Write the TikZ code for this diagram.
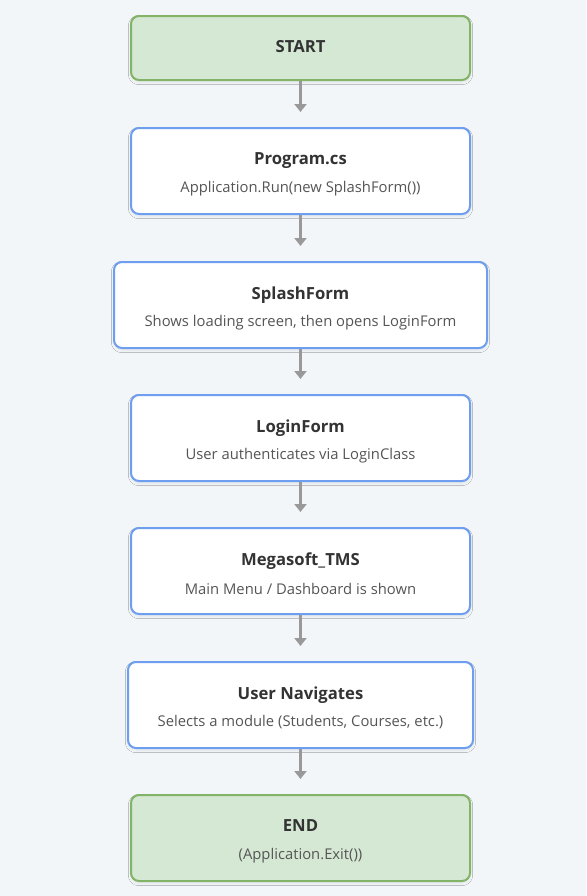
\documentclass[tikz,border=0pt]{standalone}
\usepackage{fontspec}
\setmainfont{Open Sans}
\usetikzlibrary{arrows.meta,calc,shadows.blur}
\definecolor{bg}{HTML}{F3F6F9}
\definecolor{bluebd}{HTML}{6D9EF0}
\definecolor{greenbd}{HTML}{82B366}
\definecolor{greenfill}{HTML}{D5E8D4}
\definecolor{titlec}{HTML}{333333}
\definecolor{subc}{HTML}{555555}
\definecolor{arrowc}{HTML}{999999}
\tikzset{
  boxbase/.style={rectangle, rounded corners=6pt, line width=1.5pt, inner sep=0pt, minimum height=86*0.75pt,
    blur shadow={shadow xshift=0pt, shadow yshift=-1.5pt, shadow blur steps=4, shadow opacity=8, shadow blur radius=2pt, shadow scale=1}},
  stepbox/.style={boxbase, draw=bluebd, fill=white, minimum width=339*0.75pt},
  termbox/.style={boxbase, draw=greenbd, fill=greenfill, minimum width=339*0.75pt},
  ttl/.style={font=\fontsize{12.5pt}{15pt}\selectfont\bfseries, text=titlec, inner sep=0pt},
  sub/.style={font=\fontsize{11.1pt}{13pt}\selectfont, text=subc, inner sep=0pt},
  flow/.style={draw=arrowc, line width=2.25pt, -{Triangle[width=12*0.75pt,length=8*0.75pt]}}
}
\begin{document}
\begin{tikzpicture}[x=0.75pt,y=-0.75pt]
\useasboundingbox[fill=bg] (0,0) rectangle (586,896);
% boxes
\node[termbox, minimum height=64*0.75pt] (start) at (300.5,48) {};
\node[ttl] (startT) at ($(start.center)+(0,-1)$) {START};

\node[stepbox] (prog) at (300.5,171) {};
\node[ttl] (progT) at ($(prog.center)+(0,-10)$) {Program.cs};
\node[sub] (progS) at ($(prog.center)+(0,17.5)$) {Application.Run(new SplashForm())};

\node[stepbox, minimum width=373*0.75pt] (splash) at (300.5,305) {};
\node[ttl] (splashT) at ($(splash.center)+(0,-10)$) {SplashForm};
\node[sub] (splashS) at ($(splash.center)+(0,17.5)$) {Shows loading screen, then opens LoginForm};

\node[stepbox] (login) at (300.5,438) {};
\node[ttl] (loginT) at ($(login.center)+(0,-10)$) {LoginForm};
\node[sub] (loginS) at ($(login.center)+(0,17.5)$) {User authenticates via LoginClass};

\node[stepbox] (mega) at (300.5,571) {};
\node[ttl] (megaT) at ($(mega.center)+(0,-10)$) {Megasoft\_TMS};
\node[sub] (megaS) at ($(mega.center)+(0,17.5)$) {Main Menu / Dashboard is shown};

\node[stepbox, minimum width=345*0.75pt] (nav) at (300.5,705) {};
\node[ttl] (navT) at ($(nav.center)+(0,-10)$) {User Navigates};
\node[sub] (navS) at ($(nav.center)+(0,17.5)$) {Selects a module (Students, Courses, etc.)};

\node[termbox] (end) at (300.5,838) {};
\node[ttl] (endT) at ($(end.center)+(0,-12)$) {END};
\node[sub] (endS) at ($(end.center)+(0,17.5)$) {(Application.Exit())};

% connectors
\draw[flow] (start.south) -- ($(prog.north)+(0,-15)$);
\draw[flow] (prog.south) -- ($(splash.north)+(0,-15)$);
\draw[flow] (splash.south) -- ($(login.north)+(0,-15)$);
\draw[flow] (login.south) -- ($(mega.north)+(0,-15)$);
\draw[flow] (mega.south) -- ($(nav.north)+(0,-15)$);
\draw[flow] (nav.south) -- ($(end.north)+(0,-15)$);
\end{tikzpicture}
\end{document}
